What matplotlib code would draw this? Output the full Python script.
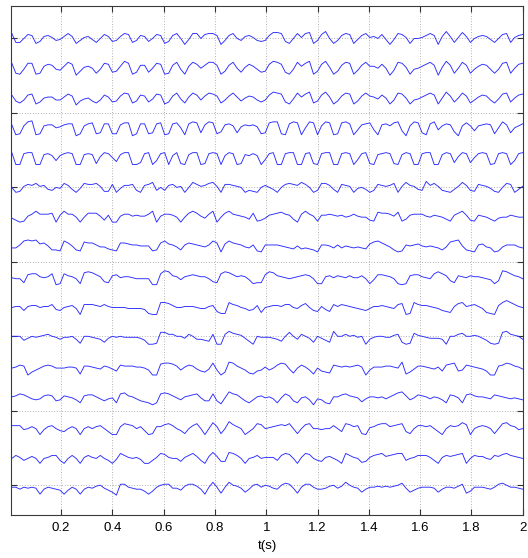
import numpy as np
import matplotlib
matplotlib.use("Agg")
import matplotlib.pyplot as plt

plt.rcParams['font.family'] = ['Liberation Sans', 'DejaVu Sans']

# ---- data: 16 channels (amplitude units) ----
ch01 = [5,-4,-4,0,4,3,-5,-3,2,3, 1,-2,-1,2,5,2,-5,-2,1,2, -1,-4,0,4,2,-3,-2,2,5,4,
        -4,-2,3,2,-3,0,4,3,-5,-3, 3,5,0,-6,-1,5,5,0,4,5, 5,3,-6,-2,3,5,0,-2,2,3,
        1,-2,-3,-2,3,6,6,5,-3,-5, 0,5,1,5,6,-5,-2,4,7,0, -5,-2,3,5,4,-5,-1,3,5,1,
        2,0,4,-1,-6,-1,5,4,1,-5, 0,0,1,3,5,3,-6,2,7,2, -4,1,6,2,-4,0,2,3,2,-1,
        -4,0,4,5,-4,1,3,4]
ch02 = [5,-5,-6,-1,5,5,-6,-5,2,4, 3,-1,-2,2,6,4,-7,-3,1,2, 0,-5,-1,5,4,-4,-3,2,7,5,
        -6,-4,3,3,-4,0,5,4,-6,-5, 3,6,-1,-6,2,6,4,0,3,6, 6,3,-6,-3,3,6,0,-4,1,4,
        2,-1,-4,-3,4,7,6,4,-4,-6, -1,6,2,5,7,-6,-3,4,7,1, -6,-3,3,6,5,-6,-2,3,6,2,
        2,0,4,0,-7,-2,6,5,1,-6, -1,0,2,4,6,3,-7,1,7,3, -5,0,6,3,-5,-1,2,4,3,-1,
        -5,-1,5,6,-5,0,4,5]
ch03 = [3,-3,-5,-2,3,4,-6,-4,0,1, 1,-2,-2,1,4,2,-7,-3,-1,0, -3,-5,-2,3,1,-4,-3,2,5,4,
        -5,-3,3,2,-4,-1,4,3,-6,-4, 2,5,-1,-5,1,5,3,-2,2,5, 4,2,-5,-2,2,5,1,-3,0,2,
        1,-2,-4,-2,3,6,5,4,-4,-6, -1,5,1,4,6,-5,-3,3,6,1, -6,-3,2,5,4,-6,-3,2,5,2,
        1,-1,3,0,-6,-2,5,4,0,-6, -2,-1,1,3,5,3,-6,0,6,2, -4,0,5,2,-5,-2,1,3,2,-2,
        -5,-1,4,5,-4,0,3,4]
ch04 = [3,-7,-6,2,6,7,-7,-6,2,3, 3,0,1,3,4,4,-8,-6,2,4, 5,-6,-5,4,4,-6,-6,3,5,5,
        -8,-6,4,4,-6,-5,4,5,-7,-6, 4,5,0,-7,4,6,5,-5,3,6, 5,-6,-4,3,4,2,-5,1,3,2,
        3,1,-6,-5,5,6,6,-6,-7,4, 6,5,-7,0,6,5,-7,2,6,5, -7,-6,5,6,4,-7,-2,3,4,5,
        -2,-7,3,4,2,5,6,-3,-8,2, 6,5,-5,-7,4,6,-2,2,4,3, -4,-8,2,5,2,-3,2,3,4,3,
        -6,0,6,3,-5,0,2,4]
ch05 = [5,-7,-7,4,5,5,-7,-7,3,4, 2,-3,2,4,5,4,-7,-7,3,4, 3,-6,1,5,4,0,-4,3,5,5,
        -7,-7,-5,4,5,-7,-3,4,5,-7, 2,5,-6,-7,3,5,5,-7,-6,4, 5,4,-7,2,5,4,-7,-6,3,2,
        4,2,-7,-2,4,5,-7,-7,4,5, 5,-7,-7,4,5,-6,-7,4,5,5, -7,-7,4,5,4,-7,-2,4,5,-6,
        -7,3,4,5,4,-6,-7,3,5,4, -7,-7,4,5,5,-7,-7,3,5,4, -5,1,5,4,-5,0,4,5,4,-7,
        -6,4,5,4,-7,-3,4,5]
ch06 = [0,-5,-4,1,3,2,4,1,2,-2, -3,0,-1,4,2,-2,-5,-1,4,3, 3,4,1,-4,-4,3,-5,-1,2,2,
        3,-3,-5,2,3,5,-3,0,-3,2, 3,0,1,-5,0,5,3,1,2,4, 5,1,-5,3,3,2,1,0,-5,-3,
        -4,-5,0,2,0,-2,-5,0,3,4, 3,2,5,3,0,-5,-3,4,4,2, -2,-5,3,2,1,-5,-1,0,-2,-5,
        -3,3,2,1,2,4,-5,1,5,2, 1,-2,-3,6,2,4,1,-3,-4,-5, -2,1,5,2,-3,-4,3,2,1,-1,
        -4,-5,0,4,3,-5,-2,1]
ch07 = [-1,-3,-5,-4,1,3,6,3,3,3, 4,-5,2,6,3,3,0,-5,0,4, 4,4,1,-3,2,-5,-5,1,3,3,
        1,2,1,1,3,6,-5,1,3,3, 2,0,-5,0,4,6,4,1,-1,3, 6,-5,0,4,6,3,2,1,0,-2,
        4,-4,-3,-1,2,3,4,5,3,2, -2,-5,3,6,3,1,-4,2,2,3, 2,1,2,0,1,3,1,0,0,-3,
        -4,5,4,4,3,1,5,-4,-2,2, 3,3,3,1,0,2,1,0,-2,-4, 2,4,6,2,-3,-4,2,1,0,-2,
        -4,-1,0,0,2,1,0,0]
ch08 = [-1,-1,2,6,7,6,7,3,4,1, -3,-3,-4,6,4,1,-3,-4,5,4, 4,2,0,0,-2,-3,-4,4,4,3,
        2,2,1,1,1,-4,-3,4,6,3, 2,0,-3,2,4,3,2,1,0,2, 6,4,-5,3,6,4,3,2,0,-1,
        2,-4,-5,2,2,2,2,1,0,-1, -2,1,-2,-1,-2,-3,-5,2,2,1, -1,2,-1,1,0,-1,0,-1,-2,3,
        5,6,4,2,0,-3,-5,-4,2,1, 2,3,1,0,1,0,-1,-3,0,5, 6,7,1,-3,-4,-5,2,3,0,-1,
        -5,-4,0,2,2,2,0,-1]
ch09 = [-1,-2,-2,-6,2,3,3,0,-1,0, 3,-8,-7,3,1,0,-2,-7,4,5, 4,2,0,-5,-6,1,2,-1,0,0,
        -1,-2,-2,-2,-2,-8,-8,3,6,5, 1,0,-3,0,1,2,1,0,0,-2, -5,-6,3,5,4,2,0,1,0,-3,
        -7,-6,-6,2,5,4,1,0,-1,-2, -1,0,1,2,1,-2,-7,-7,0,1, -1,1,0,-1,1,-1,-1,1,-2,-7,
        -3,2,2,1,0,-2,-7,-8,-7,1, 2,2,0,-1,-2,3,5,3,1,-4, -6,1,0,-1,1,0,0,-1,-2,-3,
        -7,-4,6,5,3,1,0,-2]
ch10 = [-1,0,0,-4,0,1,1,-1,0,0, 2,-3,-4,-1,0,1,-2,-8,2,2, 2,1,0,2,0,-1,-1,-1,-1,-2,
        -2,-2,-2,-3,-7,-8,-8,4,4,3, 1,-1,-1,0,0,0,-1,-2,-2,0, 1,-5,-7,-7,4,2,1,-1,-2,-4,
        -3,1,-6,-1,0,1,1,0,2,2, -1,-2,1,3,-1,-4,-5,0,-3,-5, 2,0,2,1,0,-1,-2,-3,-4,-2,
        0,0,1,0,-1,-2,2,3,-8,-7, 4,2,1,1,0,-1,-2,-4,-5,-6, 0,3,4,0,1,2,0,-2,-6,-7,
        -8,1,4,6,4,2,0,-1]
ch11 = [0,0,0,-4,-2,0,-1,0,1,2, 0,-1,-3,-1,-1,0,-3,-7,0,0, -1,-2,-3,-6,-2,0,-1,0,-1,-1,
        -1,-1,-2,-4,-8,-8,-7,4,4,2, 2,0,0,-2,2,0,-3,-3,-4,-5, 2,-8,-8,2,5,3,2,1,-2,-5,
        -8,0,-1,-1,-1,-2,-3,-5,0,4, 0,-3,2,0,-2,-6,0,-2,-4,-6, 5,0,0,2,0,1,-1,0,-8,-3,
        -1,0,0,-1,-1,1,2,-6,-8,-7, 3,1,0,-1,-2,-2,-2,-3,-8,0, 0,2,3,0,0,1,0,-2,-4,-7,
        -8,-7,4,5,2,1,0,-3]
ch12 = [-2,-1,1,0,-9,-6,-4,-2,0,1, 0,-2,-2,-2,-1,-1,-2,-8,0,0, -1,-2,-3,0,-1,-3,-5,1,0,0,
        0,-1,-1,-2,-4,-9,-9,2,3,3, 2,0,-4,-1,1,0,-3,-5,-6,-3, 3,-4,-9,-6,4,3,0,-2,-4,-7,
        -8,-5,-4,-1,-4,-2,1,3,2,-3, -7,-2,1,-1,-4,-8,-2,-5,-6,-7, 1,0,-1,0,-1,0,1,-1,-9,-4,
        -1,-1,-1,0,0,-1,-2,4,-8,-6, -3,0,0,-1,-2,-3,-1,-5,1,2, 3,-5,-4,1,0,-1,-2,-3,-5,-9,
        -9,0,1,3,2,0,-1,-3]
ch13 = [-1,0,2,1,-1,-3,-4,-3,0,1, 0,-5,-4,0,-1,-2,-4,-7,0,1, 1,-1,-3,-5,-3,-2,-7,2,3,0,
        -1,-3,-5,-6,-7,-9,-7,2,3,2, 0,-2,-4,-1,0,1,2,-2,-5,-5, 2,-5,-8,-2,4,2,1,-2,-5,-7,
        -4,-1,0,-2,-1,-3,-7,-2,2,0, -5,-7,-2,-1,-4,-9,-3,-4,-7,-8, -1,-1,1,2,0,-1,-2,-6,-3,-1,
        -1,-2,-1,-3,-1,1,3,4,0,-4, -2,1,0,-1,-3,-1,-2,-4,-7,1, 0,-2,-7,1,2,0,-1,-1,-2,-3,
        1,0,-1,-2,-3,-2,-3,-4]
ch14 = [0,0,0,-4,-3,-1,-3,-9,-4,-1, 0,-3,-5,-6,-3,-1,-3,-9,-3,-1, -3,-1,0,-3,-6,-9,-9,-1,2,1,
        0,-3,-1,-5,-9,-8,-1,-1,1,2, 0,-3,-5,-8,-3,0,2,-3,-9,-3, 3,-1,-8,-3,4,1,-1,-3,-9,-6,
        -3,2,1,-3,-2,-1,0,1,0,2, -3,-8,-3,1,2,-3,-3,-4,-3,-3, 0,-3,-6,2,1,-1,0,-8,-9,-2,
        -1,1,2,2,-1,0,1,2,-6,-8, -3,0,0,-1,0,-3,-6,-9,-3,0, -1,0,3,1,-9,-3,-1,0,-1,-3,
        -8,-3,2,3,0,-1,-4,-3]
ch15 = [-3,0,-2,-5,-3,-1,-3,-8,-3,-2, 0,0,-5,-8,-3,0,-3,-8,-2,0, -2,-3,0,-3,-5,-8,-4,2,0,-2,
        -3,-2,-4,-8,-8,-5,-2,2,1,-2, -3,-3,-6,-2,0,2,-1,-5,-8,-1, 3,-1,-6,-6,3,2,0,-3,-8,-3,
        -2,0,-3,-2,-2,-2,-5,0,2,1, -3,-8,-2,2,1,-3,-5,-6,-2,-1, -3,-5,-8,2,0,-2,-3,-7,-6,-2,
        0,1,2,-1,0,1,2,2,-5,-3, -2,0,0,0,-2,-5,-8,-2,0,-1, 0,1,2,-8,-3,0,-1,-1,-3,-4,
        0,-1,1,2,0,-1,-2,-3]
ch16 = [-2,-2,-4,-2,-3,-2,-3,-9,-4,-2, -3,-4,-5,-9,-5,-2,-4,-9,-4,-2, -3,-1,0,-3,-5,-7,-10,1,1,-2,
        -3,-4,-4,-6,-9,-6,-2,0,1,1, -3,-3,-5,-1,1,1,-1,-4,-9,-2, 3,-2,-8,-2,3,0,-1,-3,-7,-4,
        0,1,-2,0,-1,-3,-4,0,2,1, -3,-8,-2,1,1,-2,-4,-4,-3,-1, 0,-3,-1,3,0,-2,-3,-7,-4,-2,
        -2,-1,-2,-1,-2,-1,0,2,-3,-7, -5,-3,-2,-2,-2,-3,-7,-4,-2,-2, -3,-1,1,-8,-6,-2,-2,-2,-3,-4,
        -2,1,2,0,-2,-2,-3,-4]

channels = [ch01, ch02, ch03, ch04, ch05, ch06, ch07, ch08,
            ch09, ch10, ch11, ch12, ch13, ch14, ch15, ch16]

t_start, t_end = 1 / 128, 2.0          # seconds
spacing = 30                            # vertical offset between channels
xticks = [0.2, 0.4, 0.6, 0.8, 1.0, 1.2, 1.4, 1.6, 1.8, 2.0]
xticklabels = ["0.2", "0.4", "0.6", "0.8", "1", "1.2", "1.4", "1.6", "1.8", "2"]

# ---- figure ----
W, H, DPI = 528, 558, 100
fig = plt.figure(figsize=(W / DPI, H / DPI), dpi=DPI)
ax = fig.add_axes([11.3 / W, (H - 515) / H, 511.4 / W, 509.3 / H])

n = len(channels)
for i, vals in enumerate(channels):
    v = np.asarray(vals, dtype=float)
    t = np.linspace(t_start, t_end, len(v))
    ax.plot(t, v + (n - 1 - i) * spacing, color='#2a2aff', lw=0.65)

ax.set_xlim(0.0058, 2.0)
ax.set_ylim(-30, 483)
ax.set_xticks(xticks)
ax.set_xticklabels(xticklabels)
ax.set_yticks(np.arange(0, (n - 1) * spacing + 1, 2.5 * spacing))
ax.set_yticklabels([])

ax.grid(True, linestyle=(0, (1, 2.2)), color='#999999', linewidth=0.6)
ax.tick_params(direction='in', length=4.3, width=0.8, top=True, right=True,
               colors='#333333', labelsize=9.5, pad=5)
for tl in ax.get_xticklabels():
    tl.set_color('black')
for s in ax.spines.values():
    s.set_color('#3a3a3a')
    s.set_linewidth(0.8)

ax.set_xlabel("t(s)", fontsize=9.5, labelpad=4)

fig.savefig("out.png", dpi=DPI)
